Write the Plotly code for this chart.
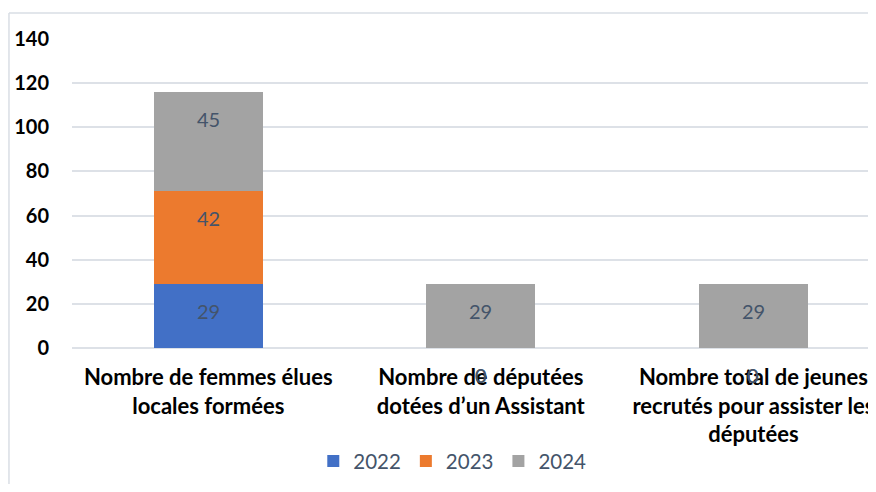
import plotly.graph_objects as go

categories = [
    "Nombre de femmes élues<br>locales formées",
    "Nombre de députées<br>dotées d’un Assistant",
    "Nombre total de jeunes<br>recrutés pour assister les<br>députées",
]
series_names = ["2022", "2023", "2024"]
values_2022 = [29, 0, 0]
values_2023 = [42, 0, 0]
values_2024 = [45, 29, 29]
y_ticks = [0, 20, 40, 60, 80, 100, 120, 140]

colors = ["#4270C6", "#EC7A2E", "#A3A3A3"]
label_color = "#44546A"
font_family = "Lato, 'Open Sans', sans-serif"

fig = go.Figure()
annotations = []
cum = [0] * len(categories)
for name, vals, col in zip(series_names, [values_2022, values_2023, values_2024], colors):
    fig.add_trace(go.Bar(
        x=list(range(len(categories))),
        y=vals,
        name=name,
        marker=dict(color=col, line=dict(width=0)),
        width=0.4,
    ))
    for i, v in enumerate(vals):
        cum[i] += v
        # Excel-style data label: sits a fixed distance below the segment's top
        annotations.append(dict(
            x=i, y=cum[i], xref="x", yref="y", text=str(v), showarrow=False,
            yshift=-27, yanchor="middle",
            font=dict(color=label_color, size=20, family=font_family),
        ))

border = "#D9DEE5"
fig.update_layout(
    barmode="stack",
    width=868, height=476,
    margin=dict(l=64, r=0, t=31, b=136),
    paper_bgcolor="white", plot_bgcolor="white",
    font=dict(family=font_family, color="black"),
    showlegend=True,
    legend=dict(
        orientation="h", x=0.473, xanchor="center", y=-0.366, yanchor="middle",
        font=dict(size=20.5, color=label_color, family=font_family),
        itemwidth=30, traceorder="normal",
    ),
    annotations=annotations,
    shapes=[
        dict(type="line", xref="paper", yref="paper", x0=-0.0784, x1=-0.0784,
             y0=-0.6, y1=1.084, line=dict(color=border, width=1.5), layer="below"),
        dict(type="line", xref="paper", yref="paper", x0=-0.0784, x1=1.02,
             y0=1.084, y1=1.084, line=dict(color=border, width=1.5), layer="below"),
    ],
)
fig.update_xaxes(
    tickmode="array", tickvals=list(range(len(categories))), ticktext=categories,
    range=[-0.5, 2.45], showgrid=False, zeroline=False, showline=False,
    tickfont=dict(size=22, family=font_family, color="black", weight="bold"),
    ticks="", ticklabelstandoff=14, ticklabeloverflow="allow",
)
fig.update_yaxes(
    range=[0, 140], tickvals=y_ticks, showgrid=True, gridcolor="#DDE1E7", gridwidth=1.5,
    zeroline=True, zerolinecolor="#DDE1E7", zerolinewidth=1.5, showline=False,
    tickfont=dict(size=20, family=font_family, color="black", weight="bold"),
    ticks="", ticklabelstandoff=22,
)

fig.write_html("out.html")
